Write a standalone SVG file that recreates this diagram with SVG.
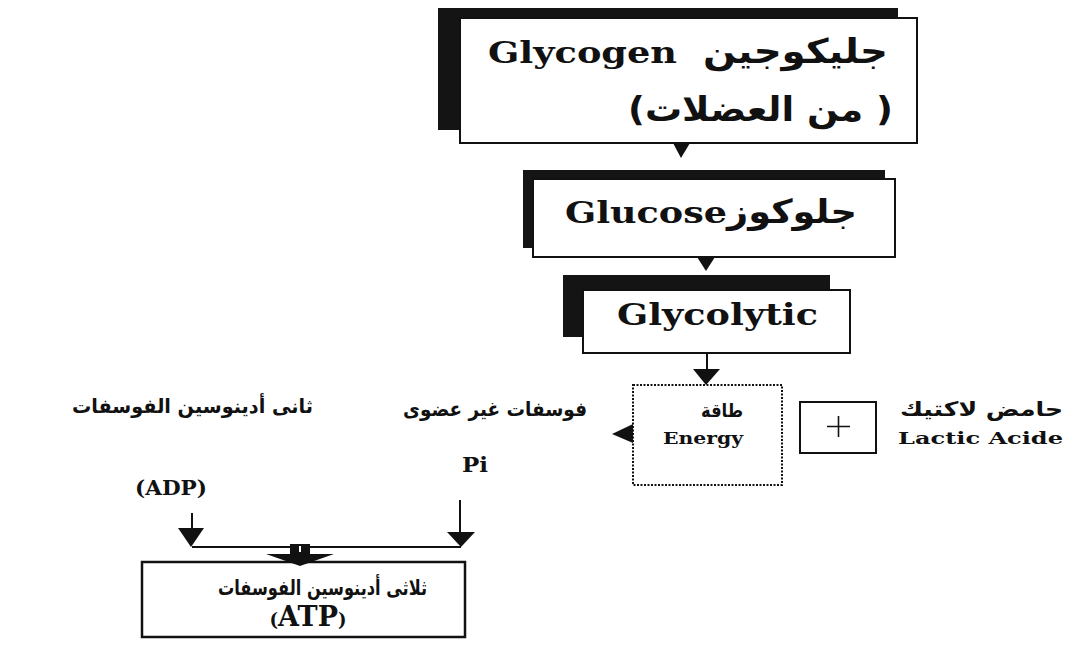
<svg xmlns="http://www.w3.org/2000/svg" width="1074" height="655" viewBox="0 0 1074 655">
<style>
.lat{font-family:"DejaVu Serif","Liberation Serif",serif;font-weight:bold;fill:#111}
.ar{font-family:"DejaVu Sans","Noto Sans",sans-serif;font-weight:bold;fill:#111}
.shadow{fill:#141414}
.box{fill:#fff;stroke:#111;stroke-width:2}
.ink{fill:#111}
.ln{stroke:#111;stroke-width:2;fill:none}
</style>
<rect width="1074" height="655" fill="#fff"/>
<g id="glycogen">
<rect class="shadow" x="438" y="8" width="460" height="122"/>
<rect class="box" x="460" y="18" width="457" height="125"/>
<text class="lat" x="488" y="63" font-size="30" textLength="189" lengthAdjust="spacingAndGlyphs">Glycogen</text>
<text class="ar" x="888" y="63" font-size="34" direction="rtl" text-anchor="start" textLength="185" lengthAdjust="spacingAndGlyphs">جليكوجين</text>
<text class="ar" x="893" y="121" font-size="34" direction="rtl" text-anchor="start" textLength="265" lengthAdjust="spacingAndGlyphs">( من العضلات)</text>
</g>
<g id="glucose">
<rect class="shadow" x="523" y="170" width="362" height="78"/>
<rect class="box" x="533" y="179" width="362" height="78"/>
<text class="lat" x="565" y="223" font-size="30" textLength="162" lengthAdjust="spacingAndGlyphs">Glucose</text>
<text class="ar" x="857" y="223" font-size="33" direction="rtl" text-anchor="start" textLength="130" lengthAdjust="spacingAndGlyphs">جلوكوز</text>
</g>
<g id="glycolytic">
<rect class="shadow" x="563" y="275" width="267" height="62"/>
<rect class="box" x="583" y="290" width="267" height="63"/>
<text class="lat" x="617" y="325" font-size="29" textLength="201" lengthAdjust="spacingAndGlyphs">Glycolytic</text>
</g>
<g id="energy">
<rect x="633" y="385" width="149" height="100" fill="#fff" stroke="#111" stroke-width="2" stroke-dasharray="2 1.5"/>
<text class="ar" x="743" y="417" font-size="19" direction="rtl" text-anchor="start" textLength="42" lengthAdjust="spacingAndGlyphs">طاقة</text>
<text class="lat" x="663" y="444" font-size="16" textLength="80" lengthAdjust="spacingAndGlyphs">Energy</text>
</g>
<g id="plus">
<rect x="800" y="402" width="76" height="51" fill="#fff" stroke="#111" stroke-width="2"/>
<path d="M827 426.5H850M838.5 416V437" stroke="#111" stroke-width="1.6" fill="none"/>
</g>
<g id="lactic-acid">
<text class="ar" x="1063" y="416" font-size="20" direction="rtl" text-anchor="start" textLength="163" lengthAdjust="spacingAndGlyphs">حامض لاكتيك</text>
<text class="lat" x="898" y="444" font-size="16" textLength="165" lengthAdjust="spacingAndGlyphs">Lactic Acide</text>
</g>
<g id="adp">
<text class="ar" x="313" y="413" font-size="20" direction="rtl" text-anchor="start" textLength="241" lengthAdjust="spacingAndGlyphs">ثانى أدينوسين الفوسفات</text>
<text class="lat" x="135" y="495" font-size="20" textLength="72" lengthAdjust="spacingAndGlyphs">(ADP)</text>
</g>
<g id="pi">
<text class="ar" x="587" y="416" font-size="20" direction="rtl" text-anchor="start" textLength="184" lengthAdjust="spacingAndGlyphs">فوسفات غير عضوى</text>
<text class="lat" x="462" y="472" font-size="20" textLength="26" lengthAdjust="spacingAndGlyphs">Pi</text>
</g>
<g id="atp">
<rect x="142" y="562" width="323" height="75" fill="#fff" stroke="#111" stroke-width="2.5"/>
<text class="ar" x="427" y="595" font-size="21" direction="rtl" text-anchor="start" textLength="209" lengthAdjust="spacingAndGlyphs">ثلاثى أدينوسين الفوسفات</text>
<text class="lat" x="308" y="626" font-size="27" text-anchor="middle"><tspan font-size="18">(</tspan>ATP<tspan font-size="18">)</tspan></text>
</g>
<g id="connectors">
<polygon class="ink" points="673,143 690,143 681,158"/>
<polygon class="ink" points="697,257 715,257 706,271"/>
<line class="ln" x1="707" y1="353" x2="707" y2="370"/>
<polygon class="ink" points="693,369 720,369 706,385"/>
<polygon class="ink" points="612,434 633,424 633,443"/>
<line class="ln" x1="192" y1="513" x2="192" y2="530"/>
<polygon class="ink" points="178,528 204,528 191,547"/>
<line class="ln" x1="460" y1="500" x2="460" y2="534"/>
<polygon class="ink" points="447,532 475,532 461,547"/>
<line class="ln" x1="192" y1="547" x2="461" y2="547"/>
<rect class="ink" x="290" y="544" width="20" height="11"/>
<line x1="300" y1="546" x2="300" y2="552" stroke="#fff" stroke-width="2"/>
<polygon class="ink" points="266,554 334,554 300,566"/>
</g>
</svg>
